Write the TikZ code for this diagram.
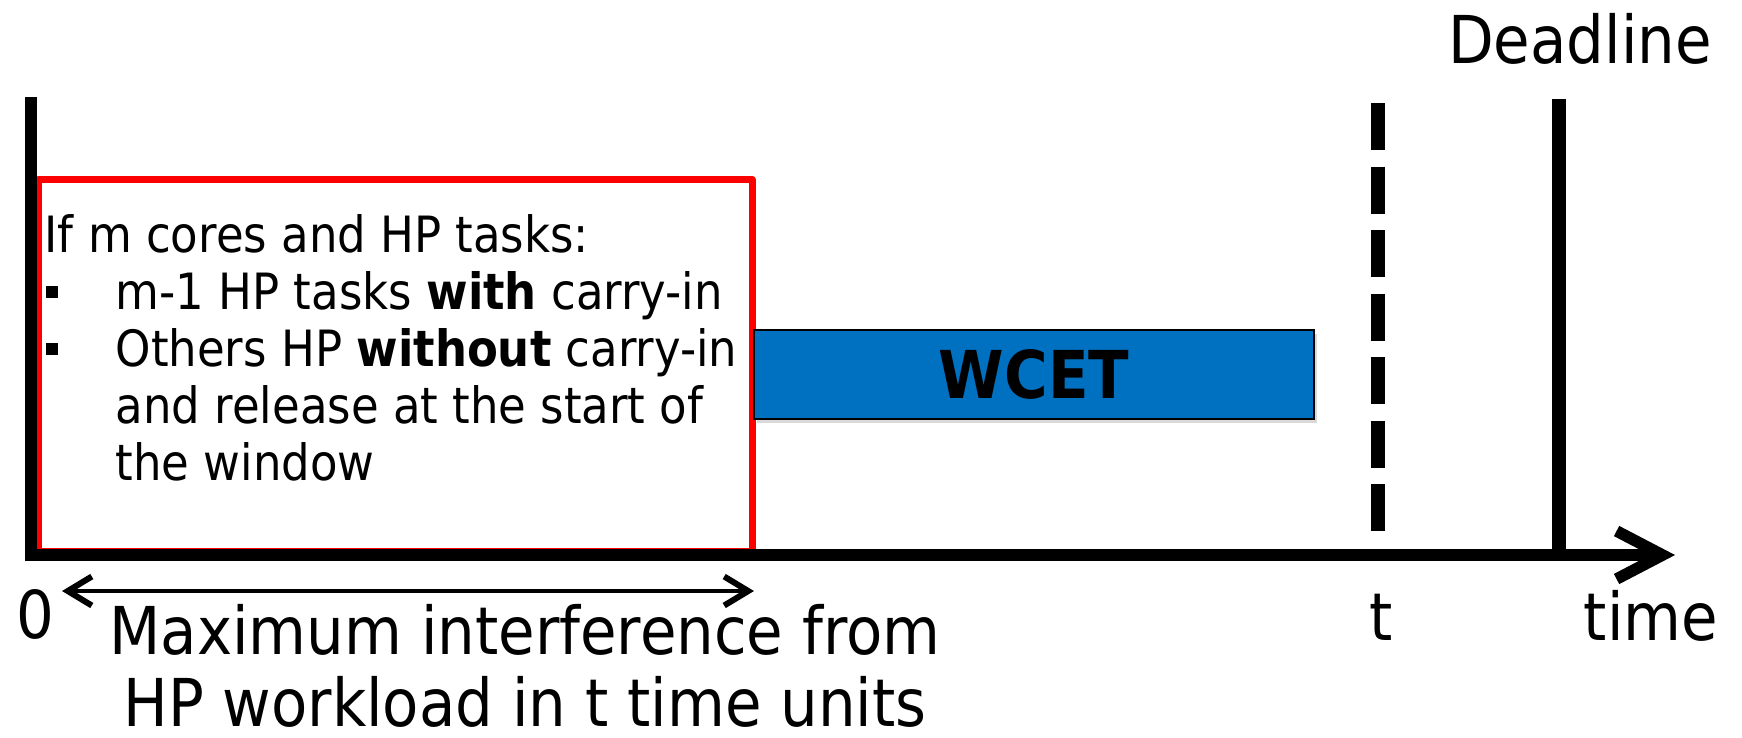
\documentclass[tikz,border=0pt]{standalone}
\usepackage{fontspec}
\setmainfont{DejaVu Sans}[FakeStretch=0.9]
\usetikzlibrary{arrows.meta,shadows}
\definecolor{hpred}{HTML}{FF0000}
\definecolor{wcetblue}{HTML}{0070C0}
% square bullet followed by the hanging indent of the list
\newcommand{\sqbul}{\makebox[7.1mm][l]{\hspace{0.1mm}\rule[1.2mm]{1.2mm}{1.2mm}}}
\newcommand{\hang}{\hspace*{7.1mm}}
\begin{document}
\begin{tikzpicture}[x=0.1mm,y=-0.1mm,
  bigtext/.style={font=\fontsize{6.6mm}{7.2mm}\selectfont, inner sep=0pt},
  bodytext/.style={font=\fontsize{5mm}{5.7mm}\selectfont, inner sep=0pt, align=left},
  axisline/.style={line width=1.15mm},
  hpbox/.style={draw=hpred, line width=0.7mm, fill=white, line join=round,
    drop shadow={shadow xshift=0.2mm, shadow yshift=-0.4mm, opacity=0.25}},
  wcetbox/.style={draw=black, line width=0.2mm, fill=wcetblue,
    drop shadow={shadow xshift=0.3mm, shadow yshift=-0.4mm, opacity=0.3},
    font=\fontsize{6.6mm}{7.3mm}\selectfont\bfseries, inner sep=0pt},
  markline/.style={line width=1.35mm},
  span/.style={line width=0.4mm,
    {Straight Barb[length=2.4mm, width=2.9mm, line width=0.6mm]}-{Straight Barb[length=2.4mm, width=2.9mm, line width=0.6mm]}}
]
\useasboundingbox (0,0) rectangle (1742,737);

% reference points of the time line
\coordinate (ytop) at (31,103);
\coordinate (origin) at (31,555);
\coordinate (xend) at (1675,555);
\coordinate (ttop) at (1378,103);
\coordinate (tbot) at (1378,531);
\coordinate (dtop) at (1559,99);
\coordinate (dbot) at (1559,555);
\coordinate (ia) at (62,591);
\coordinate (ib) at (754,591);

% interference window
\draw[hpbox] (38,179.5) rectangle (752,551);
\node[bodytext, anchor=north west] (cond) at (44,214)
  {If m cores and HP tasks:\\
   \sqbul m-1 HP tasks \textbf{with} carry-in\\
   \sqbul Others HP \textbf{without} carry-in\\
   \hang and release at the start of\\
   \hang the window};

% execution of the analysed task
\node[wcetbox, minimum width=56mm, minimum height=8.9mm, anchor=north west]
  (wcet) at (753,329) {WCET};

% axes
\draw[axisline, line cap=rect] (ytop) -- (origin);
\draw[axisline, -{Straight Barb[length=4.6mm, width=4.8mm]}] (origin) -- (xend);

% instant t and the deadline
\draw[markline, dash pattern=on 4.7mm off 1.65mm] (ttop) -- (tbot);
\draw[markline] (dtop) -- (dbot);

% span of the interference
\draw[span] (ia) -- (ib);

% labels
\node[bigtext, anchor=base] (zero) at (35,638) {0};
\node[bigtext, anchor=base] (tlab) at (1381,640) {t};
\node[bigtext, anchor=base west] (timelab) at (1583,640) {time};
\node[bigtext, anchor=base] (deadline) at (1580,63) {Deadline};
\node[bigtext, align=center, anchor=north] (interf) at (525,604)
  {Maximum interference from\\HP workload in t time units};
\end{tikzpicture}
\end{document}
